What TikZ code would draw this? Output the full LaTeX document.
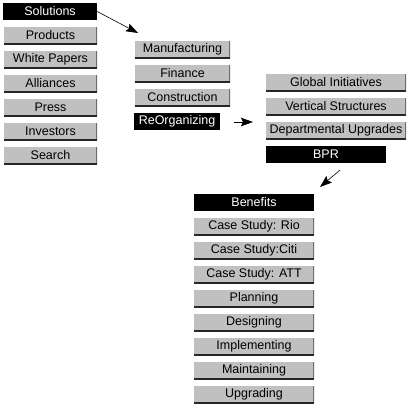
\documentclass[tikz,border=0pt]{standalone}
\usepackage{fontspec}
\setmainfont{Liberation Sans}
\usetikzlibrary{arrows.meta}
\definecolor{btngray}{RGB}{192,192,192}
\definecolor{btnshade}{RGB}{110,110,110}
\tikzset{
  btn/.style={fill=btngray, text=black, inner sep=0pt, minimum height=17pt,
    font=\fontsize{12.5}{12.5}\selectfont,
    path picture={
      \draw[line width=2pt, btnshade] (path picture bounding box.south east) -- (path picture bounding box.north east);
      \draw[line width=2pt, black!85] (path picture bounding box.south west) -- (path picture bounding box.south east);
    }},
  sel/.style={fill=black, text=white, inner sep=0pt, minimum height=17pt,
    font=\fontsize{12.5}{12.5}\selectfont},
  link/.style={-{Stealth[length=12pt,width=8.5pt,inset=2pt]}, line width=0.6pt}
}
\begin{document}
\begin{tikzpicture}[x=1pt,y=-1pt]
  \useasboundingbox[fill=white] (0,0) rectangle (412,407);
  % main menu
  \node[sel, minimum width=94pt] (solutions) at (50,11.5) {Solutions};
  \node[btn, minimum width=93pt] (products) at (50.5,35.5) {Products};
  \node[btn, minimum width=93pt] (papers) at (50.5,59.5) {White Papers};
  \node[btn, minimum width=93pt] (alliances) at (50.5,83.5) {Alliances};
  \node[btn, minimum width=93pt] (press) at (50.5,107.5) {Press};
  \node[btn, minimum width=93pt] (investors) at (50.5,131.5) {Investors};
  \node[btn, minimum width=93pt] (search) at (50.5,155.5) {Search};
  % solutions submenu
  \node[btn, minimum width=95pt] (manufacturing) at (182.5,49.5) {Manufacturing};
  \node[btn, minimum width=95pt] (finance) at (182.5,73.5) {Finance};
  \node[btn, minimum width=95pt] (construction) at (182.5,97.5) {Construction};
  \node[sel, minimum width=86pt] (reorg) at (177,121.5) {ReOrganizing};
  % reorganizing submenu
  \node[btn, minimum width=140pt] (global) at (336,82.5) {Global Initiatives};
  \node[btn, minimum width=140pt] (vertical) at (336,106.5) {Vertical Structures};
  \node[btn, minimum width=140pt] (departmental) at (336,130.5) {Departmental Upgrades};
  \node[sel, minimum width=120pt] (bpr) at (326,154.5) {BPR};
  % bpr submenu
  \node[sel, minimum width=120pt] (benefits) at (254,202.5) {Benefits};
  \node[btn, minimum width=120pt] (rio) at (254,226.5) {Case Study: Rio};
  \node[btn, minimum width=120pt] (citi) at (254,250.5) {Case Study:Citi};
  \node[btn, minimum width=120pt] (att) at (254,274.5) {Case Study: ATT};
  \node[btn, minimum width=120pt] (planning) at (254,298.5) {Planning};
  \node[btn, minimum width=120pt] (designing) at (254,322.5) {Designing};
  \node[btn, minimum width=120pt] (implementing) at (254,346.5) {Implementing};
  \node[btn, minimum width=120pt] (maintaining) at (254,370.5) {Maintaining};
  \node[btn, minimum width=120pt] (upgrading) at (254,394.5) {Upgrading};
  % arrows
  \coordinate (solTip) at (138,33);
  \coordinate (reoFrom) at (234,122);
  \coordinate (reoTip) at (253,122);
  \coordinate (bprFrom) at (340,170);
  \coordinate (bprTip) at (320,187);
  \draw[link] (solutions.east) -- (solTip);
  \draw[link] (reoFrom) -- (reoTip);
  \draw[link] (bprFrom) -- (bprTip);
\end{tikzpicture}
\end{document}
